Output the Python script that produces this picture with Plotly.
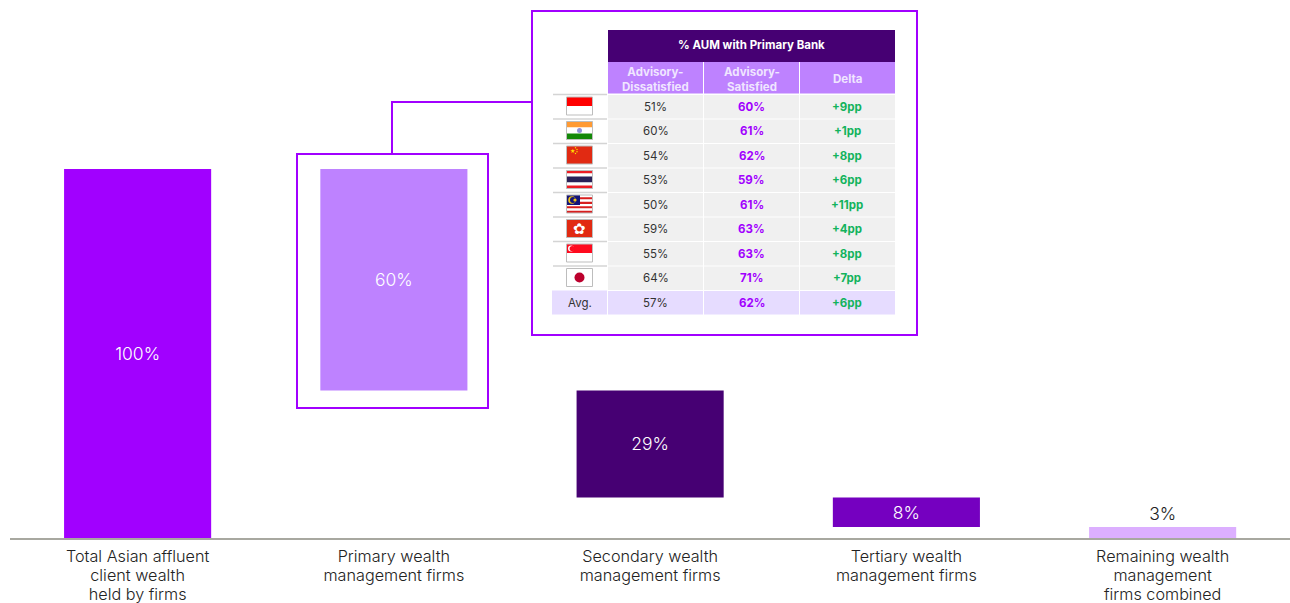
import plotly.graph_objects as go

# ---- chart data ----
categories = ["Total Asian affluent<br>client wealth<br>held by firms",
              "Primary wealth<br>management firms",
              "Secondary wealth<br>management firms",
              "Tertiary wealth<br>management firms",
              "Remaining wealth<br>management<br>firms combined"]
values = [100, 60, 29, 8, 3]
bases = [0, 40, 11, 3, 0]
bar_labels = ["100%", "60%", "29%", "8%", "3%"]
bar_colors = ["#A100FF", "#BE82FF", "#460073", "#7500C0", "#DCAFFF"]

# ---- table data ----
table_title = "% AUM with Primary Bank"
table_heads = ["Advisory-<br>Dissatisfied", "Advisory-<br>Satisfied", "Delta"]
dissatisfied = ["51%", "60%", "54%", "53%", "50%", "59%", "55%", "64%", "57%"]
satisfied = ["60%", "61%", "62%", "59%", "61%", "63%", "63%", "71%", "62%"]
delta = ["+9pp", "+1pp", "+8pp", "+6pp", "+11pp", "+4pp", "+8pp", "+7pp", "+6pp"]
flags = ["id", "in", "cn", "th", "my", "hk", "sg", "jp"]

FONT = "Inter"
W, H = 1290, 603
ML, MB = 10, 65
PW, PH = W - ML, H - MB
PX_PER_UNIT = 3.69


def X(px):
    return (px - ML) / PW


def Y(py):
    return (PH - py) / PH


shapes = []
annotations = []


def rect(x0, y0, x1, y1, fill="rgba(0,0,0,0)", line=None, lw=0):
    shapes.append(dict(type="rect", xref="paper", yref="paper",
                       x0=X(x0), x1=X(x1), y0=Y(y0), y1=Y(y1),
                       fillcolor=fill, layer="above",
                       line=dict(color=line or "rgba(0,0,0,0)", width=lw)))


def hline(x0, x1, y, color, lw):
    shapes.append(dict(type="line", xref="paper", yref="paper", layer="above",
                       x0=X(x0), x1=X(x1), y0=Y(y), y1=Y(y),
                       line=dict(color=color, width=lw)))


def disc(cx, cy, r, fill):
    shapes.append(dict(type="circle", xref="paper", yref="paper", layer="above",
                       x0=X(cx - r), x1=X(cx + r), y0=Y(cy - r), y1=Y(cy + r),
                       fillcolor=fill, line=dict(width=0)))


def text(px, py, s, size=11, color="#333333", bold=False, family=FONT):
    annotations.append(dict(xref="paper", yref="paper", x=X(px), y=Y(py),
                            text=f"<b>{s}</b>" if bold else s, showarrow=False,
                            xanchor="center", yanchor="middle",
                            font=dict(size=size, color=color, family=family),
                            align="center"))


# Frames and connector
rect(297, 154, 488, 408, line="#A100FF", lw=2)
rect(532, 11, 917, 335, fill="white", line="#A100FF", lw=2)
shapes.append(dict(type="path", xref="paper", yref="paper", layer="above",
                   path=f"M {X(392)} {Y(154)} L {X(392)} {Y(102)} L {X(532)} {Y(102)}",
                   line=dict(color="#A100FF", width=2)))

# Table
cols = [(608, 703), (704, 799), (800, 895)]
rect(608, 30, 895, 62, fill="#460073")
text(751, 45.5, table_title, size=11.5, color="white", bold=True)
for (a, b), head in zip(cols, table_heads):
    rect(a, 62, b, 93.5, fill="#BE82FF")
    text((a + b) / 2, 79.5, head, size=11.5, color="#F0E6FF", bold=True)

ROW0, ROWH = 95, 24.5
GREEN = "#12B35C"
n = len(dissatisfied)
for i in range(n):
    y0 = ROW0 + i * ROWH
    y1 = y0 + ROWH - 1
    ym = (y0 + y1) / 2
    is_avg = i == n - 1
    bg = "#E6DCFF" if is_avg else "#F0F0F0"
    for (a, b) in cols:
        rect(a, y0, b, y1, fill=bg)
    text(655.5, ym, dissatisfied[i], size=11.5)
    text(751.5, ym, satisfied[i], size=11.5, color="#A100FF", bold=True)
    text(847, ym, delta[i], size=11.5, color=GREEN, bold=True)
    if is_avg:
        rect(552, y0 - 0.5, 607, y1, fill="#E6DCFF")
        text(579.5, ym, "Avg.", size=11.5)
    else:
        hline(553, 607, y0 - 0.5, "#D4D4D4", 1.5)


def stripes(x0, y0, w, h, bands):
    total = sum(f for _, f in bands)
    y = y0
    for col, f in bands:
        rect(x0, y, x0 + w, y + h * f / total, fill=col)
        y += h * f / total


FW, FH = 26, 18
FX = 566.5
for i, code in enumerate(flags):
    fy = 97 + i * ROWH
    cx, cy = FX + FW / 2, fy + FH / 2
    if code == "id":
        stripes(FX, fy, FW, FH, [("#FF0000", 1), ("#FFFFFF", 1)])
    elif code == "in":
        stripes(FX, fy, FW, FH, [("#FF9A33", 1), ("#FFFFFF", 1), ("#138808", 1)])
        disc(cx, cy, 2.5, "#8F8FD8")
    elif code == "cn":
        rect(FX, fy, FX + FW, fy + FH, fill="#E12A12")
        text(FX + 5.5, fy + 4.5, "★", size=6, color="#FFDE00", family="DejaVu Sans")
        for dx, dy in [(9, 1.8), (10.5, 3.5), (10.5, 5.8), (9, 7.5)]:
            disc(FX + dx, fy + dy, 0.7, "#FFDE00")
    elif code == "th":
        stripes(FX, fy, FW, FH, [("#ED1C24", 1), ("#FFFFFF", 1), ("#2A2058", 2),
                                 ("#FFFFFF", 1), ("#ED1C24", 1)])
    elif code == "my":
        stripes(FX, fy, FW, FH, [("#FFFFFF", 1), ("#D81E1E", 1)] * 4)
        rect(FX, fy, FX + 13.5, fy + 10, fill="#14147A")
        disc(FX + 5.5, fy + 5, 3.8, "#F2C512")
        disc(FX + 6.5, fy + 5, 3, "#14147A")
        disc(FX + 8.5, fy + 5, 1.6, "#F2C512")
    elif code == "hk":
        rect(FX, fy, FX + FW, fy + FH, fill="#E12A12")
        text(cx, cy, "✿", size=15, color="white", family="DejaVu Sans")
    elif code == "sg":
        stripes(FX, fy, FW, FH, [("#FF0A1E", 1), ("#FFFFFF", 1)])
        disc(FX + 4.5, fy + 4.5, 3, "#FFFFFF")
        disc(FX + 5.7, fy + 4.5, 2.6, "#FF0A1E")
    elif code == "jp":
        rect(FX, fy, FX + FW, fy + FH, fill="#FFFFFF")
        disc(cx, cy, 5, "#BC002D")
    rect(FX, fy, FX + FW, fy + FH, line="#BDBDBD", lw=1)

label_colors = ["white", "white", "white", "white", "#222222"]
fig = go.Figure(go.Bar(
    x=list(range(len(values))), y=values, base=bases, width=0.574,
    marker=dict(color=bar_colors, line=dict(width=0)),
    text=bar_labels, textposition=["inside"] * 4 + ["outside"],
    insidetextanchor="middle", textangle=0, cliponaxis=False, constraintext="none",
    textfont=dict(size=17.5, family=FONT, color=label_colors, weight=300),
    hoverinfo="skip",
))

# Axis font size sets the 19px line pitch; the span sets the glyph size.
tick_text = ['<br>'.join(f'<span style="font-size:16.2px">{part}</span>'
                         for part in c.split("<br>")) for c in categories]

fig.update_layout(
    width=W, height=H, autosize=False,
    margin=dict(l=ML, r=0, t=0, b=MB, pad=0, autoexpand=False),
    paper_bgcolor="white", plot_bgcolor="white",
    showlegend=False, shapes=shapes, annotations=annotations,
    font=dict(family=FONT, color="#333333"),
    xaxis=dict(range=[-0.498, 4.497], tickmode="array", automargin=False,
               tickvals=list(range(len(values))), ticktext=tick_text,
               tickfont=dict(size=14.6, family=FONT, color="#222222", weight=300),
               ticklabelstandoff=5,
               showgrid=False, zeroline=False, showline=True,
               linecolor="#A8A8A0", linewidth=1.5, ticks="", ticklen=0),
    yaxis=dict(range=[0, PH / PX_PER_UNIT], visible=False, showgrid=False,
               zeroline=False),
)

fig.write_html("out.html", config=dict(displayModeBar=False), post_script=(
    "document.body.style.margin='0';document.body.style.overflow='hidden';"))
